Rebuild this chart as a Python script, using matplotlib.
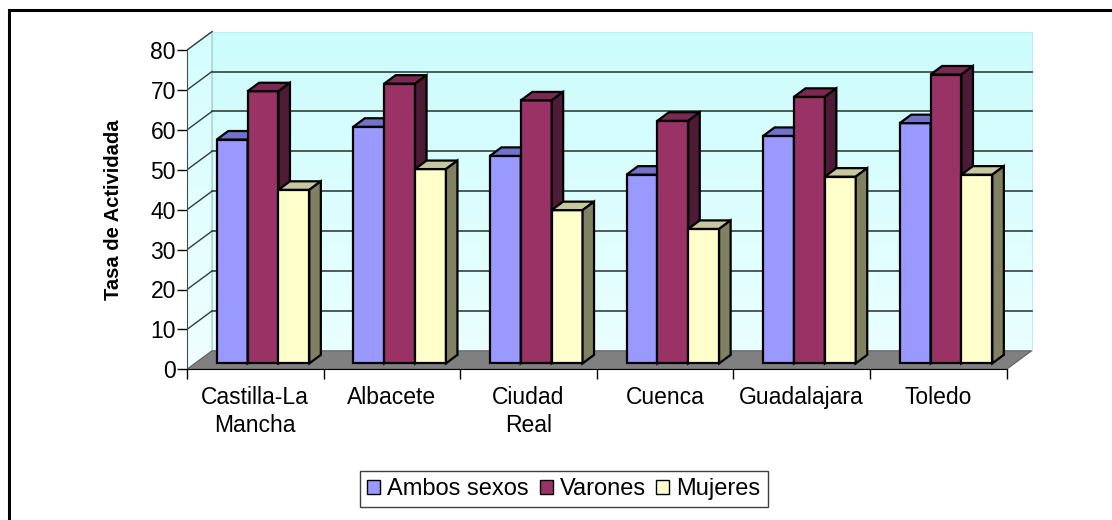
import numpy as np
import matplotlib.pyplot as plt
from matplotlib.patches import Polygon, Rectangle, Patch
from matplotlib.colors import LinearSegmentedColormap

plt.rcParams['font.family'] = ['Liberation Sans', 'DejaVu Sans']

# data
categories = ['Castilla-La\nMancha', 'Albacete', 'Ciudad\nReal', 'Cuenca', 'Guadalajara', 'Toledo']
series = ['Ambos sexos', 'Varones', 'Mujeres']
ambos = [56.1, 59.3, 52.0, 47.3, 57.0, 60.2]
varones = [68.2, 70.1, 65.9, 60.8, 66.8, 72.4]
mujeres = [43.5, 48.7, 38.4, 33.7, 46.8, 47.3]
yticks = [0, 10, 20, 30, 40, 50, 60, 70, 80]

front_cols = ['#9999FF', '#993366', '#FFFFCC']
top_cols = ['#7272C8', '#7A2952', '#C8C8A0']
side_cols = ['#4D1B36', '#4D1B36', '#808062']

# pixel geometry of the reference
W, H = 1112, 520
px_x, px_y = 136.6, 3.99          # pixels per category / per unit
x0_px, y0_px = 187, 369.3          # origin of front plane
xmax, ymax = 6.3, 85
Dx, Dy = 25 / px_x, 18.5 / px_y    # full depth in data units
d0, dd = 0.32, 0.46                # bar start depth and bar depth (fractions)

fig = plt.figure(figsize=(W / 100, H / 100), dpi=100)
ax = fig.add_axes([x0_px / W, (H - y0_px) / H, xmax * px_x / W, ymax * px_y / H])
ax.set_xlim(0, xmax)
ax.set_ylim(0, ymax)
ax.patch.set_visible(False)
n = len(categories)

# walls with gradient
grad = np.linspace(0, 1, 256).reshape(-1, 1)
cmap = LinearSegmentedColormap.from_list('wall', ['#EAFFFF', '#CCFCFC'])
back = Polygon([(Dx, Dy), (n + Dx, Dy), (n + Dx, 80 + Dy), (Dx, 80 + Dy)],
               closed=True, facecolor='none', edgecolor='#B8F0F0', lw=0.8, zorder=1)
ax.add_patch(back)
im = ax.imshow(grad, cmap=cmap, origin='lower', aspect='auto',
               extent=(Dx, n + Dx, Dy, 80 + Dy), zorder=0.5)
im.set_clip_path(back)
side = Polygon([(0, 0), (Dx, Dy), (Dx, 80 + Dy), (0, 80)], closed=True,
               facecolor='none', edgecolor='#9FC8C8', lw=0.8, zorder=1)
ax.add_patch(side)
im2 = ax.imshow(grad, cmap=LinearSegmentedColormap.from_list('sw', ['#F0FFFF', '#D4FDFD']),
                origin='lower', aspect='auto', extent=(0, Dx, 0, 80 + Dy), zorder=0.5)
im2.set_clip_path(side)
floor = Polygon([(0, 0), (n, 0), (n + Dx, Dy), (Dx, Dy)], closed=True,
                facecolor='#808080', edgecolor='#606060', lw=0.8, zorder=1.5)
ax.add_patch(floor)

# gridlines on back wall and diagonals on side wall
for v in yticks[1:]:
    if v < 80:
        ax.plot([Dx, n + Dx], [v + Dy, v + Dy], color='#3F4F4F', lw=1.3, zorder=2)
    ax.plot([0, Dx], [v, v + Dy], color='#2F3F3F', lw=1.0, zorder=2)

# bars
bw = 0.226
g0 = 0.159
base = d0 * Dy
z = 3
for k in range(n):
    for j, vals in enumerate([ambos, varones, mujeres]):
        v = vals[k]
        xl = k + g0 + j * bw + d0 * Dx
        xr = xl + bw
        ax.bar(xl, v, bw, bottom=base, align='edge', color=front_cols[j],
               edgecolor='black', lw=1.6, zorder=z)
        top = base + v
        ax.add_patch(Polygon([(xl, top), (xr, top), (xr + dd * Dx, top + dd * Dy),
                              (xl + dd * Dx, top + dd * Dy)], closed=True,
                             facecolor=top_cols[j], edgecolor='black', lw=1.6, zorder=z))
        ax.add_patch(Polygon([(xr, base), (xr + dd * Dx, base + dd * Dy),
                              (xr + dd * Dx, top + dd * Dy), (xr, top)], closed=True,
                             facecolor=side_cols[j], edgecolor='black', lw=1.6, zorder=z))
        z += 0.01

# axes
for s in ['top', 'right']:
    ax.spines[s].set_visible(False)
ax.spines['left'].set_bounds(0, 80)
ax.spines['left'].set_color('#3F4F4F')
ax.spines['bottom'].set_bounds(0, n)
ax.spines['bottom'].set_zorder(2.5)
ax.spines['left'].set_zorder(2.5)
ax.set_yticks(yticks)
ax.set_yticklabels([str(t) for t in yticks], fontsize=16.5)
ax.tick_params(axis='y', length=7, width=1, pad=1)
ax.set_xticks(np.arange(n + 1))
ax.set_xticklabels([])
ax.set_xticks(np.arange(n) + 0.5, minor=True)
ax.set_xticklabels(categories, minor=True, fontsize=16.5, linespacing=1.3)
ax.tick_params(axis='x', which='major', length=7, width=1)
ax.tick_params(axis='x', which='minor', length=0, pad=12)

ax.set_ylabel('Tasa de Actividada', fontsize=14.5, fontweight='bold')
ax.yaxis.set_label_coords((123 - x0_px) / (xmax * px_x), (y0_px - 210) / (ymax * px_y))

# legend
handles = [Patch(facecolor=c, edgecolor='black', lw=1) for c in front_cols]
leg = fig.legend(handles, series, loc='center', bbox_to_anchor=(564 / W, 1 - 489 / H),
                 ncol=3, fontsize=17, frameon=True, fancybox=False, framealpha=1,
                 edgecolor='#404040', handlelength=0.55, handleheight=0.55,
                 handletextpad=0.3, columnspacing=0.45, borderpad=0.3)
leg.get_frame().set_linewidth(1)

# chart border
fig.patches.append(Rectangle((8.5 / W, -0.05), 1.1, 1 - 9.5 / H + 0.05, transform=fig.transFigure,
                             fill=False, edgecolor='black', lw=2.2, clip_on=False))

fig.savefig('out.png', dpi=100)
